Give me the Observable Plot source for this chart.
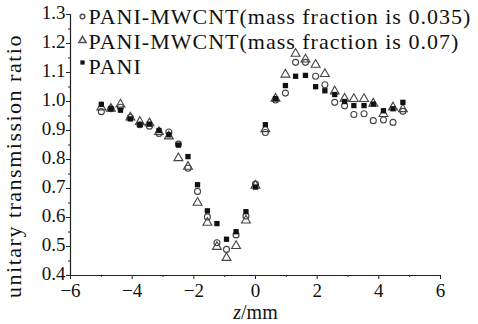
<!DOCTYPE html>
<html>
<head>
<meta charset="utf-8">
<script src="https://cdn.jsdelivr.net/npm/d3@7"></script>
<script src="https://cdn.jsdelivr.net/npm/@observablehq/plot@0.6"></script>
<style>
  html, body { margin: 0; padding: 0; background: #fff; }
  #chart { width: 478px; height: 324px; }
</style>
</head>
<body>
<div id="chart"></div>
<script>
// z positions (mm)
const z = [-5, -4.69, -4.38, -4.06, -3.75, -3.44, -3.13, -2.81, -2.5, -2.19, -1.88, -1.56, -1.25, -0.94, -0.63, -0.31, 0,
           0.32, 0.65, 0.97, 1.3, 1.62, 1.95, 2.25, 2.57, 2.89, 3.19, 3.52, 3.82, 4.15, 4.46, 4.78];
// PANI-MWCNT (mass fraction 0.035) — open circles
const circ035 = [0.965, 0.975, 0.98, 0.945, 0.92, 0.915, 0.89, 0.895, 0.853, 0.77, 0.69, 0.602, 0.513, 0.49, 0.54, 0.605, 0.715,
                 0.893, 1.005, 1.029, 1.135, 1.135, 1.087, 1.058, 0.997, 0.985, 0.955, 0.958, 0.934, 0.936, 0.928, 0.966];
// PANI-MWCNT (mass fraction 0.07) — open triangles
const tri07 = [0.98, 0.975, 0.99, 0.945, 0.93, 0.925, 0.895, 0.88, 0.805, 0.775, 0.651, 0.582, 0.499, 0.461, 0.502, 0.59, 0.71,
               0.905, 1.01, 1.093, 1.165, 1.145, 1.127, 1.095, 1.035, 1.01, 1.009, 1.009, 0.993, 0.957, 0.98, 0.974];
// PANI — filled squares
const pani = [0.99, 0.975, 0.97, 0.94, 0.92, 0.922, 0.9, 0.885, 0.85, 0.81, 0.713, 0.623, 0.579, 0.525, 0.551, 0.62, 0.705,
              0.92, 1.01, 1.055, 1.087, 1.09, 1.051, 1.037, 1.024, 1.0, 0.986, 0.986, 0.991, 0.968, 0.975, 0.997];
const legendLabels = ["PANI-MWCNT(mass fraction is 0.035)", "PANI-MWCNT(mass fraction is 0.07)", "PANI"];
const xTicks = [-6, -4, -2, 0, 2, 4, 6];
const xMinor = [-5, -3, -1, 1, 3, 5];
const yTicks = [0.4, 0.5, 0.6, 0.7, 0.8, 0.9, 1.0, 1.1, 1.2, 1.3];
const yMinor = [0.45, 0.55, 0.65, 0.75, 0.85, 0.95, 1.05, 1.15, 1.25];

const data = z.map((v, i) => ({z: v, c: circ035[i], t: tri07[i], p: pani[i]}));
const serif = "'Liberation Serif', 'Times New Roman', serif";

const chart = Plot.plot({
  width: 478,
  height: 324,
  marginLeft: 70,
  marginRight: 38,
  marginTop: 14,
  marginBottom: 49,
  style: {fontFamily: serif, fontSize: "19px", color: "#111", background: "#fff"},
  x: {domain: [-6, 6]},
  y: {domain: [0.4, 1.3]},
  marks: [
    Plot.axisX({ticks: xTicks, tickSize: 4, tickPadding: 4, label: null, stroke: "#222", fontSize: 19}),
    Plot.axisX({ticks: xMinor, tickSize: 2, text: null, label: null, stroke: "#222"}),
    Plot.axisY({ticks: yTicks, tickSize: 4, text: null, label: null, stroke: "#222"}),
    Plot.axisY({ticks: yTicks, tickSize: 0, tickPadding: 5, tickFormat: d3.format(".1f"), label: null, fontSize: 19, dy: -2}),
    Plot.axisY({ticks: yMinor, tickSize: 2, text: null, label: null, stroke: "#222"}),
    Plot.ruleY([0.4], {stroke: "#222", strokeWidth: 1.2}),
    Plot.ruleX([-6], {stroke: "#222", strokeWidth: 1.2}),
    Plot.dot(data, {x: "z", y: "c", symbol: "circle", r: 3, stroke: "#444", strokeWidth: 1.1, fill: "none"}),
    Plot.dot(data, {x: "z", y: "t", symbol: "triangle", r: 3.3, stroke: "#444", strokeWidth: 1.1, fill: "none"}),
    Plot.dot(data, {x: "z", y: "p", symbol: "square", r: 3, fill: "#111"}),
    // legend
    Plot.dot([0], {frameAnchor: "top-left", dx: 12, dy: 2, symbol: "circle", r: 2.3, stroke: "#555", fill: "none"}),
    Plot.dot([0], {frameAnchor: "top-left", dx: 12, dy: 26, symbol: "triangle", r: 2.7, stroke: "#555", fill: "none"}),
    Plot.dot([0], {frameAnchor: "top-left", dx: 12, dy: 48, symbol: "square", r: 2.4, fill: "#111"}),
    Plot.text([legendLabels[0]], {frameAnchor: "top-left", dx: 18, dy: 2, text: d => d, textAnchor: "start", lineAnchor: "middle", fontSize: 22, fill: "#111", className: "lg"}),
    Plot.text([legendLabels[1]], {frameAnchor: "top-left", dx: 18, dy: 27, text: d => d, textAnchor: "start", lineAnchor: "middle", fontSize: 22, fill: "#111", className: "lg"}),
    Plot.text([legendLabels[2]], {frameAnchor: "top-left", dx: 18, dy: 52, text: d => d, textAnchor: "start", lineAnchor: "middle", fontSize: 22, fill: "#111", className: "lg"}),
    // axis titles
    Plot.text(["unitary transmission ratio"], {frameAnchor: "left", dx: -57, dy: 21, rotate: -90, text: d => d, textAnchor: "middle", lineAnchor: "middle", fontSize: 22, fill: "#111", className: "yl"}),
    Plot.text(["z/mm"], {frameAnchor: "bottom", dy: 37, text: d => d, textAnchor: "middle", lineAnchor: "middle", fontSize: 20, fill: "#111"})
  ]
});

// letter spacing to match the wide typesetting of the original
chart.querySelectorAll(".lg text").forEach(t => t.setAttribute("letter-spacing", "1px"));
chart.querySelectorAll(".yl text").forEach(t => t.setAttribute("letter-spacing", "1.5px"));

// italic z in the x-axis title
chart.querySelectorAll("text").forEach(t => {
  if (t.textContent === "z/mm") {
    t.textContent = "";
    const ns = "http://www.w3.org/2000/svg";
    const a = document.createElementNS(ns, "tspan");
    a.setAttribute("font-style", "italic");
    a.textContent = "z";
    const b = document.createElementNS(ns, "tspan");
    b.textContent = "/mm";
    t.appendChild(a); t.appendChild(b);
  }
});
document.getElementById("chart").appendChild(chart);
</script>
</body>
</html>
